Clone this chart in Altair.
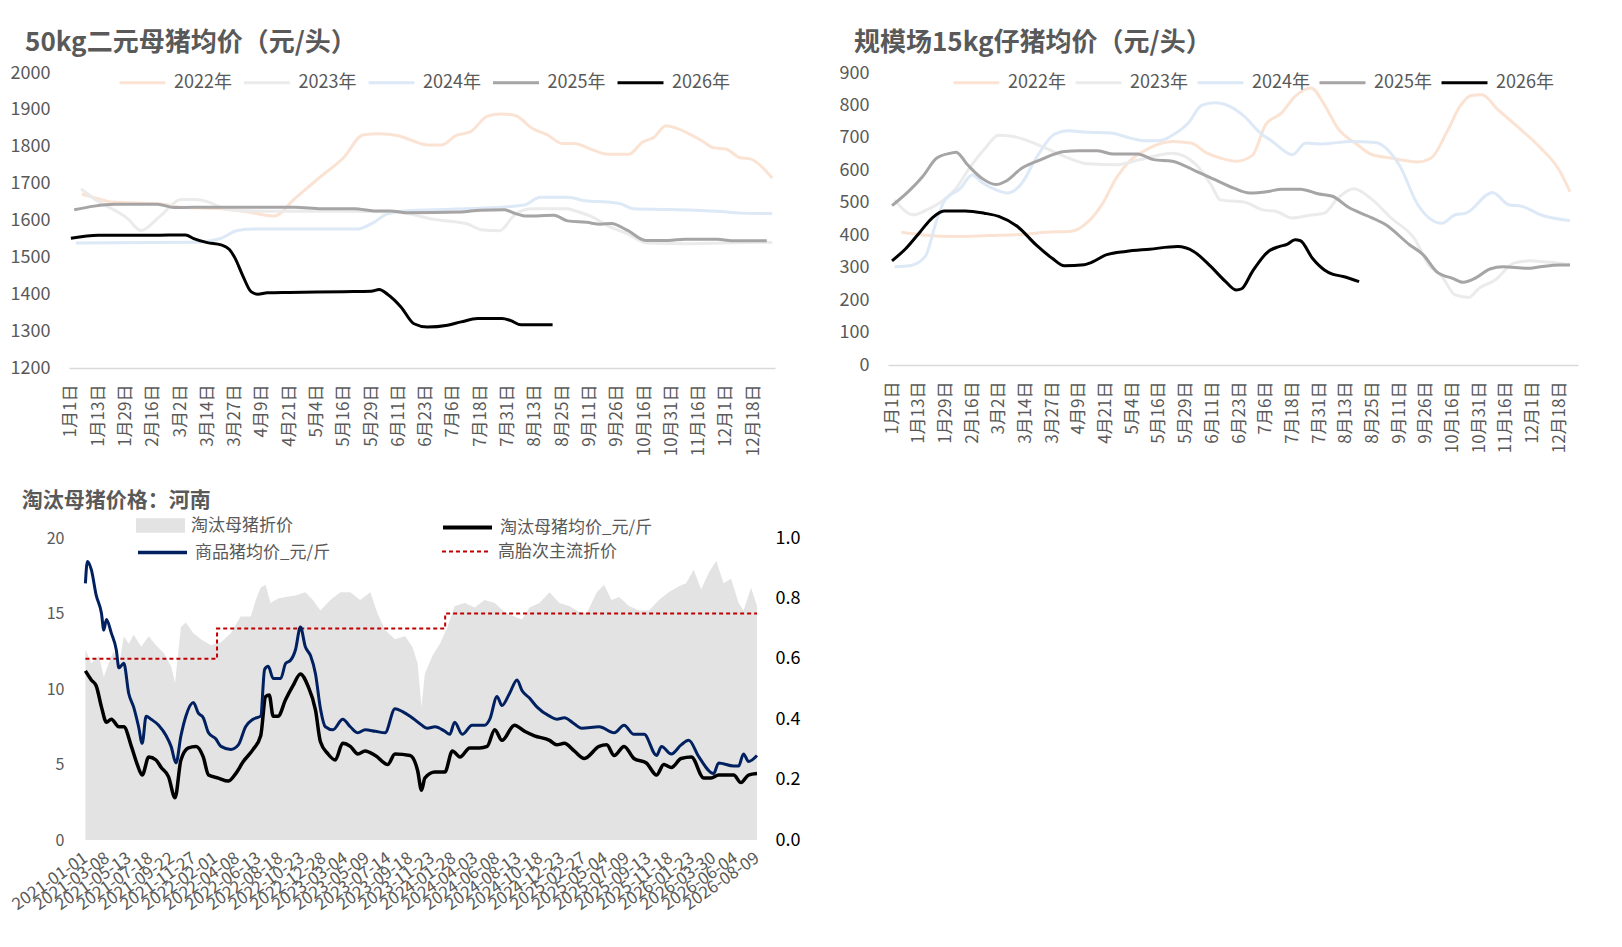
#%%
import pandas as pd
import altair as alt

FONT = "Noto Sans CJK SC"
TXT = "#595959"

# category labels shared by the two upper panels
day_labels = ["1月1日", "1月13日", "1月29日", "2月16日", "3月2日", "3月14日", "3月27日",
              "4月9日", "4月21日", "5月4日", "5月16日", "5月29日", "6月11日", "6月23日",
              "7月6日", "7月18日", "7月31日", "8月13日", "8月25日", "9月11日", "9月26日",
              "10月16日", "10月31日", "11月16日", "12月1日", "12月18日"]
years = ["2022年", "2023年", "2024年", "2025年", "2026年"]
year_colors = ["#fbe3d4", "#ebebeb", "#dde9f6", "#a6a4a4", "#000000"]
year_widths = [3, 3, 3, 3.5, 3.5]

#%% 50kg二元母猪均价 (position on category axis, yuan)
sow_ticks = [1200, 1300, 1400, 1500, 1600, 1700, 1800, 1900, 2000]
sow_2022 = [(0.4, 1672), (1, 1659), (1.5, 1650), (3.3, 1645), (4, 1636), (5.5, 1632), (6.5, 1623),
            (7.45, 1612), (8.2, 1659), (9.2, 1722), (10, 1771), (10.7, 1832), (11.3, 1835), (12, 1830),
            (12.5, 1817), (13.06, 1805), (13.6, 1805), (14.1, 1830), (14.65, 1841), (15.26, 1883),
            (15.75, 1889), (16.3, 1884), (16.9, 1850), (17.46, 1832), (18, 1809), (18.44, 1809),
            (19.17, 1790), (19.66, 1780), (20.45, 1780), (20.94, 1812), (21.37, 1826), (21.8, 1857),
            (22.2, 1850), (23.1, 1817), (23.57, 1797), (24, 1794), (24.5, 1771), (24.9, 1767),
            (25.3, 1747), (25.7, 1715)]
sow_2023 = [(0.37, 1686), (0.85, 1659), (2.08, 1605), (2.56, 1573), (3.3, 1614), (4.03, 1657),
            (4.52, 1657), (5.13, 1648), (5.6, 1632), (6.23, 1627), (8, 1625), (10, 1625), (12.09, 1621),
            (13.3, 1603), (14.5, 1591), (15.1, 1574), (15.7, 1572), (16.24, 1614), (16.85, 1632),
            (18.2, 1632), (18.44, 1627), (19.2, 1606), (19.66, 1586), (20.4, 1564), (21.1, 1539),
            (22.5, 1537), (25.3, 1541), (25.7, 1540)]
sow_2024 = [(0.18, 1539), (4.5, 1541), (5.5, 1552), (6.1, 1573), (6.7, 1577), (10.5, 1577),
            (11.1, 1595), (11.6, 1618), (12.45, 1627), (15, 1633), (16.6, 1642), (17.2, 1663),
            (18.2, 1663), (18.9, 1653), (19.66, 1650), (20.15, 1645), (20.6, 1632), (21.9, 1630),
            (23.7, 1625), (24.55, 1620), (25.7, 1619)]
sow_2025 = [(0.12, 1629), (0.85, 1639), (1.59, 1644), (3.17, 1644), (3.78, 1635), (4.5, 1636),
            (8.2, 1636), (9.2, 1632), (10.4, 1632), (11.1, 1626), (11.7, 1626), (12.3, 1621),
            (14.3, 1623), (15.0, 1628), (15.9, 1629), (16.2, 1621), (16.7, 1612), (17.7, 1614),
            (18.2, 1599), (18.9, 1595), (19.4, 1590), (19.8, 1592), (20.4, 1573), (21.06, 1546),
            (21.9, 1546), (22.5, 1549), (23.7, 1549), (24.2, 1545), (25.5, 1545)]
sow_2026 = [(0, 1552), (1, 1560), (2, 1560), (3, 1560), (4.2, 1561), (4.5, 1551), (5, 1540),
            (5.5, 1534), (5.8, 1522), (6, 1500), (6.3, 1450), (6.6, 1407), (6.85, 1400), (7.2, 1404),
            (8, 1405), (9, 1406), (10, 1407), (11, 1408), (11.3, 1413), (11.6, 1400), (12.1, 1365),
            (12.57, 1320), (13.06, 1311), (13.8, 1316), (14.3, 1325), (14.9, 1334), (15.8, 1334),
            (16.1, 1329), (16.5, 1317), (17.65, 1317)]

#%% 规模场15kg仔猪均价
pig_ticks = [0, 100, 200, 300, 400, 500, 600, 700, 800, 900]
pig_2022 = [(0.35, 409), (1.15, 401), (2.4, 396), (3.6, 399), (5.0, 403), (5.75, 409), (6.7, 412),
            (7.35, 442), (7.9, 499), (8.4, 576), (8.9, 628), (9.65, 669), (10.5, 689), (11.2, 684),
            (11.8, 653), (12.3, 638), (12.9, 628), (13.5, 646), (14.0, 741), (14.6, 777), (15.1, 828),
            (15.7, 854), (16.2, 802), (16.7, 730), (17.4, 681), (18.0, 648), (18.7, 638), (19.4, 628),
            (19.7, 626), (20.2, 638), (20.8, 720), (21.3, 800), (21.7, 831), (22.1, 833), (22.7, 787),
            (23.5, 730), (24.3, 669), (25.0, 600), (25.4, 534)]
pig_2023 = [(0.1, 509), (0.8, 463), (1.3, 478), (1.86, 504), (2.4, 545), (2.9, 607), (3.45, 664),
            (4.0, 708), (4.5, 705), (5.4, 681), (6.46, 643), (7.35, 620), (8.4, 617), (9.3, 633),
            (10.5, 653), (11.4, 617), (11.95, 556), (12.3, 509), (13.2, 502), (13.9, 478), (14.4, 473),
            (15.0, 453), (15.6, 461), (16.2, 468), (16.7, 514), (17.3, 543), (18.0, 509), (18.7, 453),
            (19.6, 386), (20.1, 309), (20.6, 273), (21.1, 216), (21.6, 208), (22.0, 237), (22.6, 262),
            (23.3, 314), (23.9, 321), (24.3, 319), (25.4, 310)]
pig_2024 = [(0.1, 303), (0.7, 307), (1.24, 334), (1.7, 453), (1.95, 504), (2.57, 545), (3.0, 586),
            (3.4, 561), (3.9, 540), (4.34, 530), (4.87, 561), (5.4, 638), (6.1, 712), (6.6, 722),
            (7.2, 718), (8.2, 715), (8.9, 700), (9.5, 691), (10, 691), (10.5, 708), (11.1, 746),
            (11.6, 800), (12.1, 808), (12.65, 797), (13.2, 766), (13.8, 715), (14.25, 689), (15.0, 648),
            (15.5, 684), (16, 681), (16.5, 684), (17.2, 689), (18.1, 686), (19.0, 617), (19.7, 494),
            (20.6, 437), (21.1, 463), (21.5, 468), (22.5, 532), (23.1, 494), (23.6, 489), (24.3, 463),
            (25.4, 445)]
pig_2025 = [(0, 491), (0.62, 535), (1.15, 581), (1.68, 638), (2.2, 653), (2.4, 656), (2.83, 617),
            (3.36, 576), (3.9, 556), (4.25, 566), (4.87, 607), (5.58, 633), (6.46, 658), (7.0, 660),
            (7.7, 660), (8.3, 650), (9.2, 650), (9.8, 633), (10.5, 628), (11.4, 597), (12.1, 571),
            (12.8, 545), (13.4, 530), (14.1, 535), (14.6, 542), (15.3, 542), (16.0, 527), (16.5, 520),
            (17.1, 486), (17.8, 460), (18.5, 432), (19.4, 370), (19.9, 340), (20.4, 288), (21.0, 267),
            (21.4, 255), (21.9, 270), (22.4, 296), (22.9, 303), (23.8, 298), (24.3, 303), (25.0, 308),
            (25.4, 308)]
pig_2026 = [(0, 321), (0.53, 360), (1.06, 411), (1.5, 453), (1.95, 475), (2.74, 475), (3.45, 468),
            (4, 458), (4.7, 427), (5.4, 370), (6.0, 329), (6.46, 306), (7.2, 309), (7.4, 314),
            (8.05, 340), (8.76, 350), (9.65, 357), (10.7, 365), (11.3, 350), (11.95, 303), (12.5, 257),
            (12.9, 231), (13.1, 235), (13.5, 288), (14.1, 350), (14.5, 365), (14.8, 372), (15.1, 386),
            (15.3, 383), (15.75, 329), (16.2, 293), (16.5, 280), (16.9, 273), (17.5, 257)]

#%% 淘汰母猪价格：河南 (days after 2021-01-01)
cull_dates = ["2021-01-01", "2021-03-08", "2021-05-13", "2021-07-18", "2021-09-22", "2021-11-27",
              "2022-02-01", "2022-04-08", "2022-06-13", "2022-08-18", "2022-10-23", "2022-12-28",
              "2023-03-04", "2023-05-09", "2023-07-14", "2023-09-18", "2023-11-23", "2024-01-28",
              "2024-04-03", "2024-06-08", "2024-08-13", "2024-10-18", "2024-12-23", "2025-02-27",
              "2025-05-04", "2025-07-09", "2025-09-13", "2025-11-18", "2026-01-23", "2026-03-30",
              "2026-06-04", "2026-08-09"]
hog_price = [(0, 17.0), (6, 18.45), (18, 17.9), (33, 16.2), (49, 15.0), (56, 13.9), (64, 14.6),
             (79, 13.7), (94, 12.6), (102, 11.4), (117, 11.7), (132, 9.7), (147, 8.8), (162, 7.5),
             (173, 6.4), (185, 8.2), (200, 8.0), (223, 7.6), (246, 6.9), (261, 6.2), (276, 5.1),
             (291, 6.9), (306, 8.2), (329, 9.1), (344, 8.4), (359, 8.1), (375, 7.1), (397, 6.7),
             (413, 6.2), (443, 6.0), (466, 6.3), (488, 7.5), (511, 8.0), (534, 8.2), (546, 11.3),
             (557, 11.5), (572, 10.7), (595, 10.7), (610, 11.7), (625, 11.9), (640, 12.6), (655, 14.1),
             (670, 12.8), (686, 12.2), (701, 11.0), (716, 8.7), (731, 7.5), (754, 7.3), (784, 8.0),
             (807, 7.5), (830, 7.1), (852, 7.3), (883, 7.2), (913, 7.1), (943, 8.7), (966, 8.5),
             (989, 8.2), (1019, 7.7), (1042, 7.4), (1065, 7.5), (1095, 7.2), (1110, 7.0), (1125, 7.8),
             (1148, 7.0), (1178, 7.6), (1216, 7.6), (1232, 8.0), (1254, 9.5), (1269, 8.9), (1292, 9.7),
             (1315, 10.6), (1330, 9.9), (1353, 9.4), (1376, 8.8), (1414, 8.2), (1436, 8.0), (1459, 8.1),
             (1489, 7.7), (1512, 7.4), (1565, 7.5), (1611, 7.1), (1641, 7.6), (1671, 7.0), (1702, 7.0),
             (1740, 5.6), (1755, 6.2), (1785, 5.7), (1815, 6.3), (1838, 6.6), (1869, 5.5), (1914, 4.4),
             (1929, 5.1), (1975, 4.9), (1990, 4.9), (2005, 5.7), (2020, 5.2), (2046, 5.6)]
cull_price = [(0, 11.2), (18, 10.6), (33, 10.2), (49, 8.8), (64, 7.8), (79, 8.0), (102, 7.5),
              (117, 7.5), (140, 6.2), (158, 5.0), (173, 4.3), (193, 5.5), (215, 5.3), (231, 4.8),
              (253, 4.2), (273, 2.8), (291, 5.3), (314, 6.1), (337, 6.2), (359, 5.5), (375, 4.3),
              (405, 4.1), (435, 3.9), (458, 4.4), (481, 5.2), (511, 6.0), (534, 6.9), (549, 9.5),
              (560, 9.6), (572, 8.2), (587, 8.2), (610, 9.3), (632, 10.2), (655, 11.0), (678, 10.2),
              (701, 8.6), (716, 6.5), (739, 5.7), (761, 5.3), (784, 6.4), (807, 6.2), (830, 5.7),
              (852, 5.9), (883, 5.6), (921, 5.0), (943, 5.7), (989, 5.6), (1012, 4.6), (1024, 3.3),
              (1034, 4.1), (1065, 4.5), (1095, 4.5), (1118, 5.9), (1141, 5.5), (1171, 6.1), (1201, 6.1),
              (1224, 6.2), (1247, 7.3), (1269, 6.6), (1307, 7.6), (1338, 7.2), (1368, 6.9), (1414, 6.6),
              (1436, 6.3), (1459, 6.4), (1489, 5.9), (1520, 5.4), (1565, 6.2), (1588, 6.3), (1611, 5.6),
              (1641, 6.2), (1671, 5.4), (1709, 5.1), (1740, 4.3), (1762, 5.0), (1785, 4.8), (1815, 5.4),
              (1846, 5.5), (1884, 4.1), (1906, 4.1), (1929, 4.3), (1975, 4.3), (1997, 3.8), (2020, 4.3),
              (2046, 4.4)]
cull_discount = [(0, 0.63), (18, 0.585), (41, 0.61), (56, 0.54), (71, 0.585), (86, 0.625), (102, 0.575),
                 (117, 0.675), (132, 0.65), (147, 0.68), (170, 0.64), (193, 0.675), (215, 0.645),
                 (238, 0.62), (261, 0.575), (273, 0.52), (291, 0.705), (306, 0.72), (329, 0.685),
                 (352, 0.665), (382, 0.645), (413, 0.655), (443, 0.685), (473, 0.74), (504, 0.74),
                 (519, 0.795), (534, 0.835), (549, 0.845), (564, 0.785), (587, 0.80), (610, 0.805),
                 (640, 0.81), (670, 0.82), (693, 0.795), (716, 0.76), (746, 0.795), (777, 0.82),
                 (807, 0.82), (837, 0.795), (868, 0.82), (890, 0.75), (913, 0.695), (943, 0.665),
                 (974, 0.675), (996, 0.64), (1012, 0.585), (1024, 0.44), (1034, 0.55), (1057, 0.61),
                 (1080, 0.65), (1103, 0.705), (1125, 0.775), (1156, 0.785), (1186, 0.77), (1216, 0.795),
                 (1247, 0.785), (1277, 0.755), (1307, 0.74), (1330, 0.73), (1353, 0.77), (1383, 0.785),
                 (1414, 0.82), (1444, 0.785), (1474, 0.775), (1505, 0.755), (1527, 0.75), (1558, 0.82),
                 (1580, 0.845), (1603, 0.795), (1626, 0.805), (1656, 0.775), (1687, 0.76), (1717, 0.76),
                 (1747, 0.795), (1777, 0.82), (1808, 0.84), (1830, 0.85), (1853, 0.895), (1876, 0.83),
                 (1899, 0.885), (1922, 0.925), (1944, 0.85), (1967, 0.865), (1990, 0.785), (2005, 0.76),
                 (2028, 0.835), (2046, 0.775)]
parity_discount = [(0, 0.6), (401, 0.7), (1096, 0.75), (2046, 0.75)]
left_ticks = [0, 5, 10, 15, 20]
right_ticks = [0.0, 0.2, 0.4, 0.6, 0.8, 1.0]


#%% helpers
def long_table(series):
    rows = []
    for name, pts in zip(years, series):
        for x, v in pts:
            rows.append({"x": x, "v": v, "year": name})
    return pd.DataFrame(rows)


def top_panel(df, title, ticks, x_domain, w, h, legend_x, col_pad):
    label_expr = "[" + ",".join("'%s'" % d for d in day_labels) + "][datum.value]"
    return (alt.Chart(df, title=alt.TitleParams(title, anchor="start", frame="bounds", dx=15,
                                                 fontSize=26, font=FONT, fontWeight="bold",
                                                 color=TXT, offset=2))
        .mark_line(interpolate="monotone")
        .encode(
            x=alt.X("x:Q", scale=alt.Scale(domain=x_domain, nice=False, zero=False),
                    axis=alt.Axis(values=list(range(len(day_labels))), labelExpr=label_expr,
                                  labelAngle=270, labelAlign="right", labelBaseline="middle",
                                  labelPadding=16, labelFontSize=17, labelOverlap=False,
                                  labelFlush=False, title=None, ticks=False,
                                  domainColor="#d9d9d9", domainWidth=1.5)),
            y=alt.Y("v:Q", scale=alt.Scale(domain=[ticks[0], ticks[-1]], nice=False, zero=False),
                    axis=alt.Axis(values=ticks, format="d", title=None, domain=False, ticks=False,
                                  labelPadding=19, labelFontSize=18)),
            color=alt.Color("year:N", scale=alt.Scale(domain=years, range=year_colors),
                            legend=alt.Legend(title=None, orient="none", legendX=legend_x, legendY=-15,
                                              direction="horizontal", symbolType="stroke",
                                              symbolSize=2116, symbolStrokeWidth=3,
                                              labelFontSize=18, labelColor=TXT, labelFont=FONT,
                                              labelOffset=7, columnPadding=col_pad, padding=0)),
            strokeWidth=alt.StrokeWidth("year:N", scale=alt.Scale(domain=years, range=year_widths),
                                        legend=None),
        )
        .properties(width=w, height=h)
    )


def pairs(pts, name):
    return pd.DataFrame({"day": [p[0] for p in pts], "v": [p[1] for p in pts], "s": name})


def c_legend(x, y, symbol, stroke_w=3, stroke=None):
    kw = dict(title=None, orient="none", legendX=x, legendY=y, symbolType=symbol, symbolSize=2401,
              symbolStrokeWidth=stroke_w, labelFontSize=17, labelColor=TXT, labelFont=FONT,
              labelOffset=6, padding=0)
    if stroke:
        kw["symbolStrokeColor"] = stroke
    return alt.Legend(**kw)


#%% upper panels
sow = top_panel(long_table([sow_2022, sow_2023, sow_2024, sow_2025, sow_2026]),
                "50kg二元母猪均价（元/头）", sow_ticks, [-0.07, 25.8], 706, 295, 49, 5.5)
piglet = top_panel(long_table([pig_2022, pig_2023, pig_2024, pig_2025, pig_2026]),
                   "规模场15kg仔猪均价（元/头）", pig_ticks, [-0.15, 25.7], 690, 292, 64, 3)

#%% lower panel (x domain opens a little before the first date so the plot sits right of the top one)
tick_days = [(pd.Timestamp(d) - pd.Timestamp(cull_dates[0])).days for d in cull_dates]
x_c = alt.X("day:Q", scale=alt.Scale(domain=[-50, tick_days[-1]], nice=False, zero=False),
            axis=alt.Axis(values=tick_days,
                          labelExpr="timeFormat(datetime(2021, 0, 1 + datum.value), '%Y-%m-%d')",
                          labelAngle=325, labelAlign="right", labelBaseline="middle",
                          labelPadding=16, labelFontSize=17, labelOverlap=False, labelFlush=False,
                          title=None, ticks=False, domain=False))
right_scale = alt.Scale(domain=[0, 1], nice=False)
left_scale = alt.Scale(domain=[0, 20], nice=False)

area = alt.Chart(pairs(cull_discount, "淘汰母猪折价")).mark_area(interpolate="linear").encode(
    x=x_c,
    y=alt.Y("v:Q", scale=right_scale,
            axis=alt.Axis(orient="right", values=right_ticks, format=".1f", title=None, domain=False,
                          ticks=False, labelPadding=18, labelFontSize=18, labelColor="#000000",
                          labelFlush=False)),
    fill=alt.Fill("s:N", scale=alt.Scale(range=["#e3e3e3"]),
                  legend=c_legend(67, -37, "M-1,-0.3L1,-0.3L1,0.3L-1,0.3Z", 0)),
)
red = alt.Chart(pairs(parity_discount, "高胎次主流折价")).mark_line(
    interpolate="step-after", color="#c00000", strokeWidth=2).encode(
    x=x_c,
    y=alt.Y("v:Q", scale=right_scale, axis=None),
    strokeDash=alt.StrokeDash("s:N", scale=alt.Scale(range=[[4, 3]]),
                              legend=c_legend(372, -12, "stroke", 2, "#c00000")),
)
cull = alt.Chart(pairs(cull_price, "淘汰母猪均价_元/斤")).mark_line(
    interpolate="monotone", strokeWidth=3.5).encode(
    x=x_c,
    y=alt.Y("v:Q", scale=left_scale,
            axis=alt.Axis(values=left_ticks, title=None, domain=False, ticks=False, labelPadding=5,
                          labelFontSize=16, labelFlush=False)),
    color=alt.Color("s:N", scale=alt.Scale(range=["#000000"]), legend=c_legend(372, -37, "stroke", 4)),
)
hog = alt.Chart(pairs(hog_price, "商品猪均价_元/斤")).mark_line(
    interpolate="monotone", strokeWidth=3).encode(
    x=x_c,
    y=alt.Y("v:Q", scale=left_scale, axis=None),
    stroke=alt.Stroke("s:N", scale=alt.Scale(range=["#002060"]), legend=c_legend(67, -12, "stroke", 3.5)),
)
henan = (alt.layer(area, red, cull, hog)
    .resolve_scale(y="independent")
    .properties(width=688, height=302,
                title=alt.TitleParams("淘汰母猪价格：河南", anchor="start", frame="bounds", dx=13,
                                      fontSize=21, font=FONT, fontWeight="bold", color=TXT, offset=-10))
)

#%%
indep = dict(color="independent", strokeWidth="independent", fill="independent",
             stroke="independent", strokeDash="independent")
top_row = (alt.hconcat(sow, piglet, spacing=60)
    .resolve_scale(color="independent", strokeWidth="independent")
    .resolve_legend(color="independent", strokeWidth="independent"))
chart = (alt.concat(top_row, henan, columns=1, spacing=34, align="none")
    .resolve_scale(**indep)
    .resolve_legend(**indep)
    .properties(padding={"left": 0, "top": 22, "right": 5, "bottom": 5})
    .configure_view(stroke=None)
    .configure_axis(labelFont=FONT, labelColor=TXT, grid=False)
)
chart.save("out.html", embed_options={"renderer": "svg", "actions": False})
